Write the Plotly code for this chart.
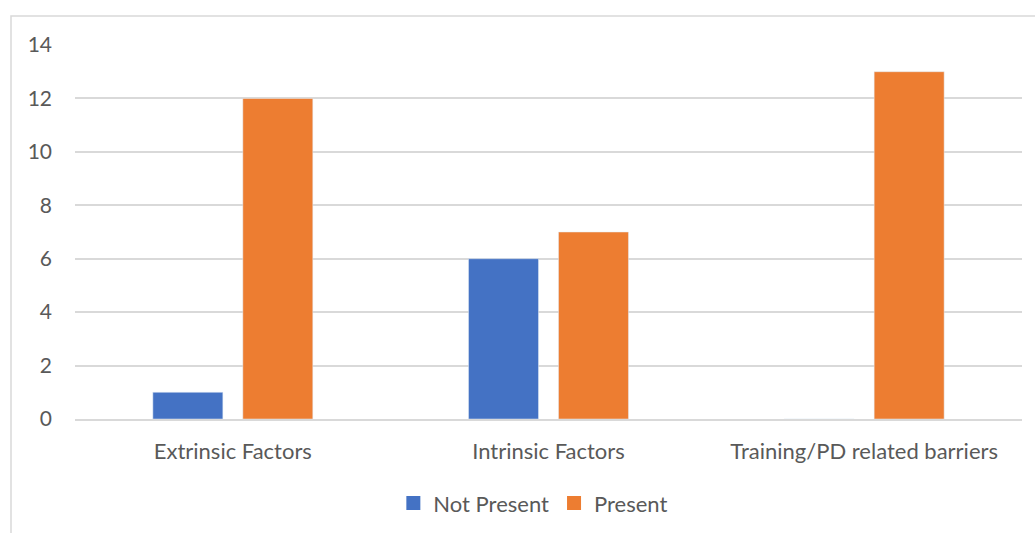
import plotly.graph_objects as go

categories = ["Extrinsic Factors", "Intrinsic Factors", "Training/PD related barriers"]
not_present = [1, 6, 0]
present = [12, 7, 13]
y_ticks = [0, 2, 4, 6, 8, 10, 12, 14]
series_names = ["Not Present", "Present"]
series_colors = ["#4472C4", "#ED7D31"]

W, H = 1035, 533
ml, mr, mt, mb = 75, 13, 45, 114
pw, ph = W - ml - mr, H - mt - mb

fig = go.Figure()
for name, vals, col in zip(series_names, [not_present, present], series_colors):
    fig.add_trace(go.Bar(name=name, x=categories, y=vals, marker_color=col, showlegend=False))
for name, col in zip(series_names, series_colors):
    fig.add_trace(go.Scatter(name=name, x=[None], y=[None], mode="markers",
                             marker=dict(symbol="square", size=14, color=col), showlegend=True))

fam = "Lato, Open Sans, sans-serif"

fig.update_layout(
    width=W, height=H,
    margin=dict(l=ml, r=mr, t=mt, b=mb, autoexpand=False),
    paper_bgcolor="white", plot_bgcolor="white",
    barmode="group", bargap=0.43, bargroupgap=0.222,
    font=dict(family=fam, size=21, color="#595959"),
    showlegend=True,
    legend=dict(orientation="h", x=0.484, xanchor="center", y=-0.225, yanchor="middle",
                font=dict(family=fam, size=22, color="#595959"),
                itemwidth=30, traceorder="normal"),
    xaxis=dict(showgrid=False, showline=True, linecolor="#D9D9D9", linewidth=1.5,
               ticks="", ticklabelstandoff=12, tickfont=dict(size=22), automargin=False),
    yaxis=dict(range=[0, 14], tickvals=y_ticks, showgrid=True, gridcolor="#D9D9D9",
               gridwidth=1.5, zeroline=False, showline=False, ticks="",
               ticklabelstandoff=22, automargin=False),
    shapes=[dict(type="rect", xref="paper", yref="paper",
                 x0=(11 - ml) / pw, x1=(1045 - ml) / pw,
                 y0=(419 - 545) / ph, y1=(419 - 16) / ph,
                 line=dict(color="#D9D9D9", width=1.5), fillcolor="rgba(0,0,0,0)", layer="below")],
)

fig.write_html("out.html")
